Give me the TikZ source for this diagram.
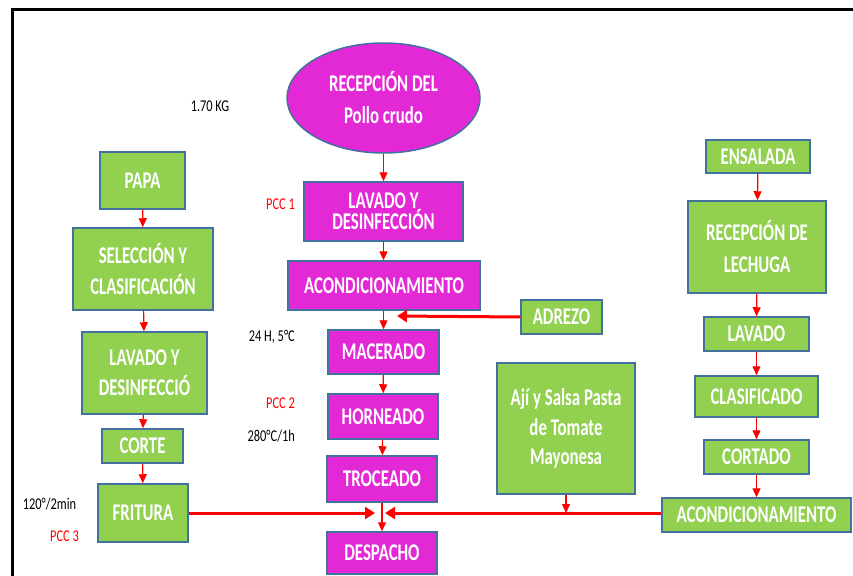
\documentclass[tikz,border=0pt]{standalone}
\usepackage{fontspec}
\usetikzlibrary{shapes.geometric,arrows.meta}
\newfontfamily\boxfont[FakeStretch=0.70]{Carlito}
\newfontfamily\lblfont[FakeStretch=0.75]{Carlito}
\definecolor{magc}{RGB}{227,41,214}
\definecolor{grnc}{RGB}{146,208,80}
\definecolor{bordc}{RGB}{65,113,156}
\tikzset{
  box/.style={draw=bordc, line width=1.5pt, inner sep=0pt, text=white,
    font=\boxfont\bfseries\fontsize{24}{31}\selectfont, align=center},
  mag/.style={box, fill=magc},
  grn/.style={box, fill=grnc},
  thinarr/.style={draw=red, line width=1.2pt, -{Triangle[length=9pt,width=8pt]}},
  thickarr/.style={draw=red, line width=3pt, -{Triangle[length=10pt,width=12pt]}},
  lbl/.style={font=\lblfont\fontsize{16.5}{18}\selectfont, inner sep=0pt},
  pcc/.style={lbl, text=red}
}
\begin{document}
\begin{tikzpicture}[x=1pt,y=-1pt]
\useasboundingbox (0,0) rectangle (853,575);
\fill[white] (0,0) rectangle (853,575);
\draw[line width=3pt] (12,590) -- (12,10) -- (870,10);

% left column
\node[grn, minimum width=85, minimum height=57] (papa) at (142.5,180.5) {PAPA};
\node[grn, minimum width=140, minimum height=82] (sel) at (143,269) {SELECCIÓN Y\\CLASIFICACIÓN};
\node[grn, minimum width=125, minimum height=82, font=\boxfont\bfseries\fontsize{24}{30}\selectfont] (lavL) at (144.5,373) {LAVADO Y\\DESINFECCIÓ};
\node[grn, minimum width=81, minimum height=34] (corte) at (142.5,446) {CORTE};
\node[grn, minimum width=90, minimum height=58] (fritura) at (143,513) {FRITURA};

% center column
\node[mag, ellipse, minimum width=193, minimum height=110, font=\boxfont\bfseries\fontsize{24}{32}\selectfont] (recp) at (383.5,98) {RECEPCIÓN DEL\\Pollo crudo};
\node[mag, minimum width=159, minimum height=59, font=\boxfont\bfseries\fontsize{24}{19}\selectfont] (lavC) at (383.5,211.5) {LAVADO Y\\DESINFECCIÓN};
\node[mag, minimum width=192, minimum height=49] (acondC) at (384,285.5) {ACONDICIONAMIENTO};
\node[mag, minimum width=111, minimum height=44] (mac) at (383.5,352) {MACERADO};
\node[mag, minimum width=110, minimum height=45] (horn) at (383,416.5) {HORNEADO};
\node[mag, minimum width=110, minimum height=46] (troc) at (382,479) {TROCEADO};
\node[mag, minimum width=110, minimum height=42] (desp) at (382,553) {DESPACHO};

% right side
\node[grn, minimum width=81, minimum height=34] (adrezo) at (561.5,317) {ADREZO};
\node[grn, minimum width=138, minimum height=131, font=\boxfont\bfseries\fontsize{24}{29.5}\selectfont] (aji) at (566,428.5) {Ají y Salsa Pasta\\de Tomate\\Mayonesa};
\node[grn, minimum width=104, minimum height=33] (ens) at (758,156.5) {ENSALADA};
\node[grn, minimum width=138, minimum height=92, font=\boxfont\bfseries\fontsize{24}{32}\selectfont] (lech) at (757,247) {RECEPCIÓN DE\\LECHUGA};
\node[grn, minimum width=105, minimum height=34] (lavR) at (756.5,334) {LAVADO};
\node[grn, minimum width=123, minimum height=41] (clas) at (756.5,396.5) {CLASIFICADO};
\node[grn, minimum width=105, minimum height=34] (cort) at (756.5,457) {CORTADO};
\node[grn, minimum width=189, minimum height=34] (acondR) at (756.5,515) {ACONDICIONAMIENTO};

% labels
\node[lbl] (kg) at (210,106) {1.70 KG};
\node[pcc, anchor=east] (p1) at (295,204) {PCC 1};
\node[lbl, anchor=east] (t1) at (295,337) {24 H, 5°C};
\node[pcc, anchor=east] (p2) at (295,403) {PCC 2};
\node[lbl, anchor=east] (t2) at (295,436) {280°C/1h};
\node[lbl] (t3) at (49.5,504) {120°/2min};
\node[pcc] (p3) at (64.5,536) {PCC 3};

% vertical arrows
\draw[thinarr] (papa) -- (sel);
\draw[thinarr] (sel) -- (lavL);
\draw[thinarr] (lavL) -- (corte);
\draw[thinarr] (corte) -- (fritura);
\draw[thinarr] (recp.south) -- (recp.south |- lavC.north);
\draw[thinarr] (lavC.south) -- (lavC.south |- acondC.north);
\draw[thinarr] (acondC.south -| mac.north) -- (mac.north);
\draw[thinarr] (mac) -- (horn);
\draw[thinarr] (horn) -- (troc);
\draw[thinarr] (troc) -- (desp);
\draw[thinarr] (ens) -- (lech);
\draw[thinarr] (lech) -- (lavR);
\draw[thinarr] (lavR) -- (clas);
\draw[thinarr] (clas) -- (cort);
\draw[thinarr] (cort) -- (acondR);

% thick arrows
\coordinate (ja) at (397,316);
\coordinate (jL) at (375,513);
\coordinate (jR) at (385,513);
\draw[thickarr] (adrezo.west) -- (ja);
\draw[thickarr] (fritura.east) -- (jL);
\draw[thickarr] (acondR.west |- jR) -- (jR);
\draw[thinarr] (aji.south) -- (aji.south |- jR);
\end{tikzpicture}
\end{document}
